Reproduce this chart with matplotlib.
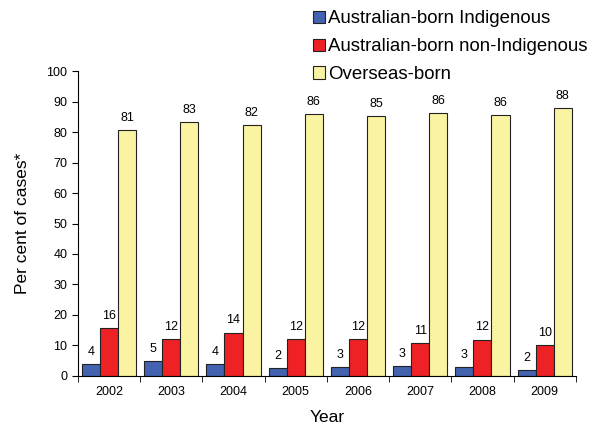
import numpy as np
import matplotlib.pyplot as plt

plt.rcParams['font.family'] = ['Liberation Sans', 'DejaVu Sans']

years = ["2002", "2003", "2004", "2005", "2006", "2007", "2008", "2009"]
indigenous = [3.9, 4.9, 3.9, 2.5, 2.8, 3.2, 2.8, 2.0]
non_indigenous = [15.6, 12.1, 14.2, 12.0, 12.0, 10.7, 11.9, 10.2]
overseas = [80.7, 83.4, 82.2, 86.0, 85.4, 86.3, 85.7, 88.0]
label_indig = [4, 5, 4, 2, 3, 3, 3, 2]
label_non = [16, 12, 14, 12, 12, 11, 12, 10]
label_over = [81, 83, 82, 86, 85, 86, 86, 88]

fig = plt.figure(figsize=(5.9, 4.34), dpi=100)
ax = fig.add_axes([0.132, 0.134, 0.844, 0.702])

x = np.arange(len(years))
w = 0.29
series = [
    (indigenous, label_indig, "#4363b0", "Australian-born Indigenous"),
    (non_indigenous, label_non, "#ee2125", "Australian-born non-Indigenous"),
    (overseas, label_over, "#faf4a2", "Overseas-born"),
]
for i, (vals, labs, col, name) in enumerate(series):
    pos = x + (i - 1) * w
    ax.bar(pos, vals, w, color=col, edgecolor="#222222", linewidth=0.8, label=name)
    for p, v, l in zip(pos, vals, labs):
        ax.text(p, v + 2.0, str(l), ha="center", va="bottom", fontsize=9)

ax.set_xlim(-0.5, len(years) - 0.5)
ax.set_ylim(0, 100)
ax.set_yticks(range(0, 101, 10))
ax.set_xticks(x)
ax.set_xticklabels(years)
ax.set_xticks(np.arange(-0.5, len(years)), minor=True)
ax.tick_params(axis="x", which="major", length=0, labelsize=9, pad=7)
ax.tick_params(axis="x", which="minor", length=4, direction="out")
ax.tick_params(axis="y", labelsize=9, length=4, direction="out")
for s in ["top", "right"]:
    ax.spines[s].set_visible(False)

ax.set_xlabel("Year", fontsize=12.5, labelpad=9)
ax.set_ylabel("Per cent of cases*", fontsize=12.5, labelpad=12)

fig.legend(loc="upper left", bbox_to_anchor=(0.5305, 0.976), frameon=False,
           fontsize=13.4, handlelength=0.63, handleheight=0.63, handletextpad=0.2,
           labelspacing=0.58, borderpad=0, borderaxespad=0)

fig.savefig("out.png", dpi=100)
